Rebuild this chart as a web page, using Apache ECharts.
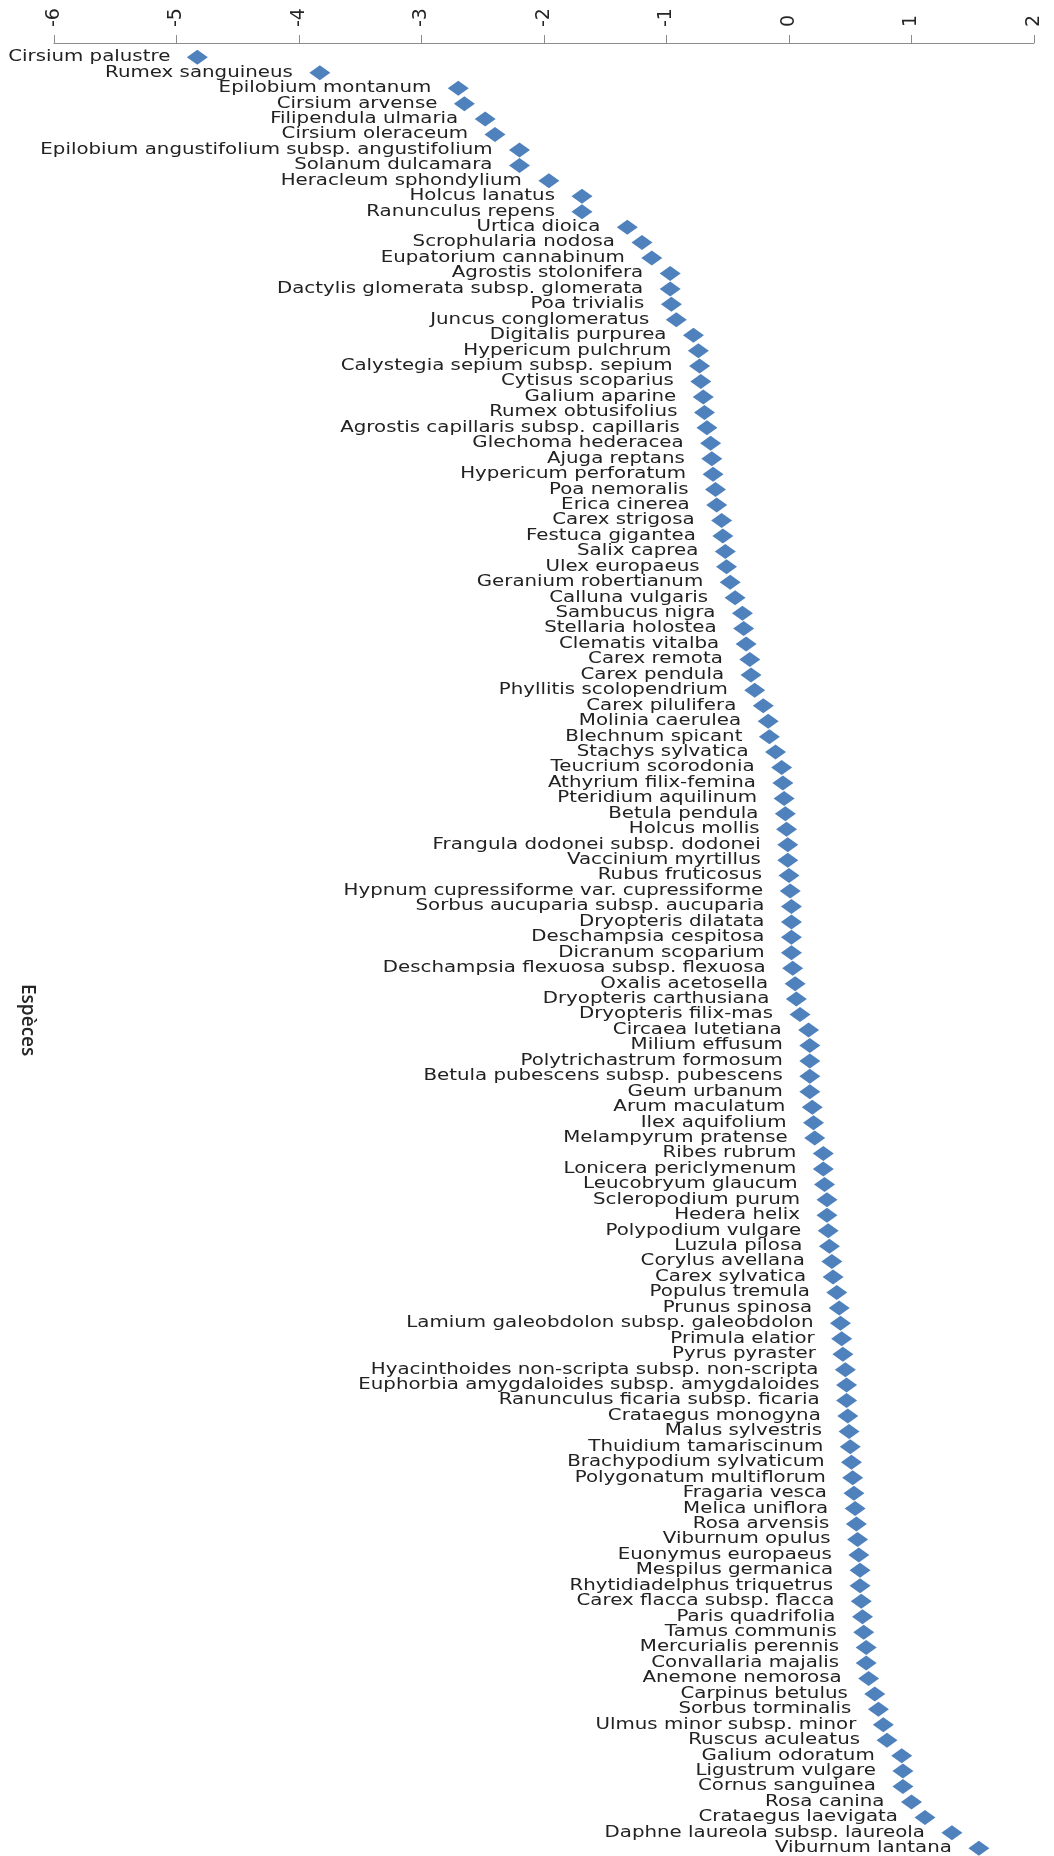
<!DOCTYPE html>
<html>
<head>
<meta charset="utf-8">
<script src="https://cdn.jsdelivr.net/npm/echarts@6/dist/echarts.min.js"></script>
<style>
html,body{margin:0;padding:0;background:#fff;}
#chart{width:1054px;height:1856px;}
</style>
</head>
<body>
<div id="chart"></div>
<script>
var species = [
"Cirsium palustre","Rumex sanguineus","Epilobium montanum","Cirsium arvense","Filipendula ulmaria",
"Cirsium oleraceum","Epilobium angustifolium subsp. angustifolium","Solanum dulcamara","Heracleum sphondylium","Holcus lanatus",
"Ranunculus repens","Urtica dioica","Scrophularia nodosa","Eupatorium cannabinum","Agrostis stolonifera",
"Dactylis glomerata subsp. glomerata","Poa trivialis","Juncus conglomeratus","Digitalis purpurea","Hypericum pulchrum",
"Calystegia sepium subsp. sepium","Cytisus scoparius","Galium aparine","Rumex obtusifolius","Agrostis capillaris subsp. capillaris",
"Glechoma hederacea","Ajuga reptans","Hypericum perforatum","Poa nemoralis","Erica cinerea",
"Carex strigosa","Festuca gigantea","Salix caprea","Ulex europaeus","Geranium robertianum",
"Calluna vulgaris","Sambucus nigra","Stellaria holostea","Clematis vitalba","Carex remota",
"Carex pendula","Phyllitis scolopendrium","Carex pilulifera","Molinia caerulea","Blechnum spicant",
"Stachys sylvatica","Teucrium scorodonia","Athyrium filix-femina","Pteridium aquilinum","Betula pendula",
"Holcus mollis","Frangula dodonei subsp. dodonei","Vaccinium myrtillus","Rubus fruticosus","Hypnum cupressiforme var. cupressiforme",
"Sorbus aucuparia subsp. aucuparia","Dryopteris dilatata","Deschampsia cespitosa","Dicranum scoparium","Deschampsia flexuosa subsp. flexuosa",
"Oxalis acetosella","Dryopteris carthusiana","Dryopteris filix-mas","Circaea lutetiana","Milium effusum",
"Polytrichastrum formosum","Betula pubescens subsp. pubescens","Geum urbanum","Arum maculatum","Ilex aquifolium",
"Melampyrum pratense","Ribes rubrum","Lonicera periclymenum","Leucobryum glaucum","Scleropodium purum",
"Hedera helix","Polypodium vulgare","Luzula pilosa","Corylus avellana","Carex sylvatica",
"Populus tremula","Prunus spinosa","Lamium galeobdolon subsp. galeobdolon","Primula elatior","Pyrus pyraster",
"Hyacinthoides non-scripta subsp. non-scripta","Euphorbia amygdaloides subsp. amygdaloides","Ranunculus ficaria subsp. ficaria","Crataegus monogyna","Malus sylvestris",
"Thuidium tamariscinum","Brachypodium sylvaticum","Polygonatum multiflorum","Fragaria vesca","Melica uniflora",
"Rosa arvensis","Viburnum opulus","Euonymus europaeus","Mespilus germanica","Rhytidiadelphus triquetrus",
"Carex flacca subsp. flacca","Paris quadrifolia","Tamus communis","Mercurialis perennis","Convallaria majalis",
"Anemone nemorosa","Carpinus betulus","Sorbus torminalis","Ulmus minor subsp. minor","Ruscus aculeatus",
"Galium odoratum","Ligustrum vulgare","Cornus sanguinea","Rosa canina","Crataegus laevigata",
"Daphne laureola subsp. laureola","Viburnum lantana"
];

var scores = [
-4.83,-3.83,-2.70,-2.65,-2.48,
-2.40,-2.20,-2.20,-1.96,-1.69,
-1.69,-1.32,-1.20,-1.12,-0.97,
-0.97,-0.96,-0.92,-0.78,-0.74,
-0.73,-0.72,-0.70,-0.69,-0.67,
-0.64,-0.63,-0.62,-0.60,-0.59,
-0.55,-0.54,-0.52,-0.51,-0.48,
-0.44,-0.38,-0.37,-0.35,-0.32,
-0.31,-0.28,-0.21,-0.17,-0.16,
-0.11,-0.06,-0.05,-0.04,-0.03,
-0.02,-0.01,-0.01,0.00,0.01,
0.02,0.02,0.02,0.02,0.03,
0.05,0.06,0.09,0.16,0.17,
0.17,0.17,0.17,0.19,0.20,
0.21,0.28,0.28,0.29,0.31,
0.31,0.32,0.33,0.35,0.36,
0.39,0.41,0.42,0.43,0.44,
0.46,0.47,0.47,0.48,0.49,
0.50,0.51,0.52,0.53,0.54,
0.55,0.56,0.57,0.58,0.58,
0.59,0.60,0.61,0.63,0.63,
0.65,0.70,0.73,0.77,0.80,
0.92,0.93,0.93,1.00,1.11,
1.33,1.55
];

var xMin = -6, xMax = 2, xStep = 1;
var yTitle = "Espèces";

var chart = echarts.init(document.getElementById('chart'));
var pts = scores.map(function(v, i){ return [v, i]; });

chart.setOption({
  animation: false,
  backgroundColor: '#ffffff',
  grid: { left: 54, right: 20, top: 49.6, height: 1806.5, containLabel: false },
  xAxis: {
    type: 'value', position: 'top', offset: 6.6,
    min: xMin, max: xMax, interval: xStep,
    axisLine: { show: true, lineStyle: { color: '#8c8c8c', width: 1 } },
    axisTick: { show: true, length: 8, lineStyle: { color: '#8c8c8c' } },
    splitLine: { show: false },
    axisLabel: { rotate: -90, margin: 16, fontSize: 19, fontFamily: 'DejaVu Sans', color: '#262626' }
  },
  yAxis: {
    type: 'category', inverse: true, data: species.map(function(s, i){ return i; }),
    axisLine: { show: false }, axisTick: { show: false }, axisLabel: { show: false },
    splitLine: { show: false }
  },
  graphic: [{
    type: 'text', left: 18, top: 984, rotation: -Math.PI/2,
    style: { text: yTitle, font: '600 19px "Open Sans"', fill: '#262626' }
  }],
  series: [{
    type: 'scatter', data: pts, symbol: 'diamond', symbolSize: [21, 15],
    itemStyle: { color: '#4F81BD', opacity: 1 }, z: 3
  }, {
    type: 'custom', data: pts, z: 2,
    renderItem: function(params, api){
      var p = api.coord([api.value(0), api.value(1)]);
      return {
        type: 'text', x: p[0] - 27, y: p[1], scaleX: 1.32, scaleY: 1,
        style: { text: species[params.dataIndex], align: 'right', verticalAlign: 'middle',
                 font: '15px "DejaVu Sans"', fill: '#222222' }
      };
    }
  }]
});
</script>
</body>
</html>
